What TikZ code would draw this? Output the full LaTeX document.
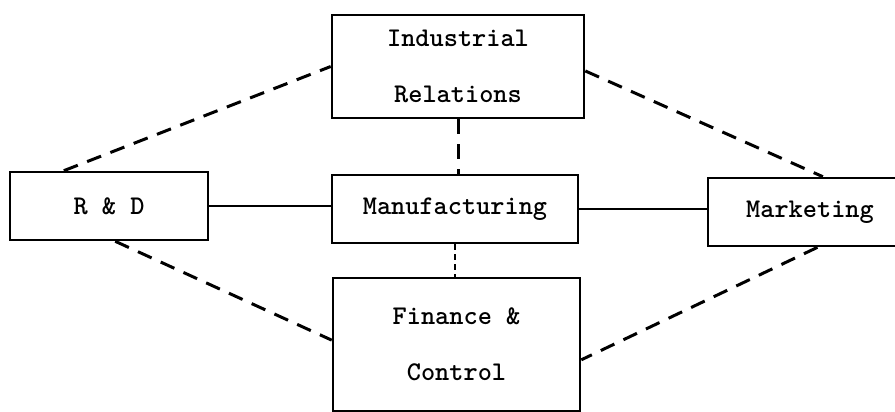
\documentclass[tikz,border=0pt]{standalone}
\usepackage{tikz}

\begin{document}
\begin{tikzpicture}[x=1pt,y=-1pt,
    unit/.style={draw, line width=2.6pt, inner sep=0pt, align=center,
      font=\fontsize{27}{56}\selectfont\ttfamily\bfseries},
    link/.style={line width=2.6pt},
    loose/.style={line width=3pt, dash pattern=on 15pt off 10pt},
    tight/.style={line width=1.8pt, dash pattern=on 6pt off 4pt}]
    \useasboundingbox (0,0) rectangle (895,412);
    \clip (0,0) rectangle (895,412);
    \node[unit, minimum width=198pt, minimum height=68pt] (rd) at (109,206) {R \& D};
    \node[unit, minimum width=252pt, minimum height=103pt] (ir) at (458,66.5) {Industrial\\Relations};
    \node[unit, minimum width=246pt, minimum height=68pt] (mf) at (455,209) {Manufacturing};
    \node[unit, minimum width=247pt, minimum height=133pt] (fc) at (456.5,344.5) {Finance \&\\Control};
    \node[unit, minimum width=204pt, minimum height=68pt] (mk) at (810,212) {Marketing};
    \draw[link] (rd.east) -- (rd.east -| mf.west);
    \draw[link] (mf.east) -- (mf.east -| mk.west);
    \draw[loose] (ir.south) -- (ir.south |- mf.north);
    \draw[tight] (mf.south) -- (mf.south |- fc.north);
    \draw[loose] (rd.142) -- (ir.west);
    \draw[loose] (rd.-80) -- (fc.178);
    \draw[loose] (ir.-2) -- (mk.70);
    \draw[loose] (mk.-78) -- (fc.-7);
\end{tikzpicture}
\end{document}
